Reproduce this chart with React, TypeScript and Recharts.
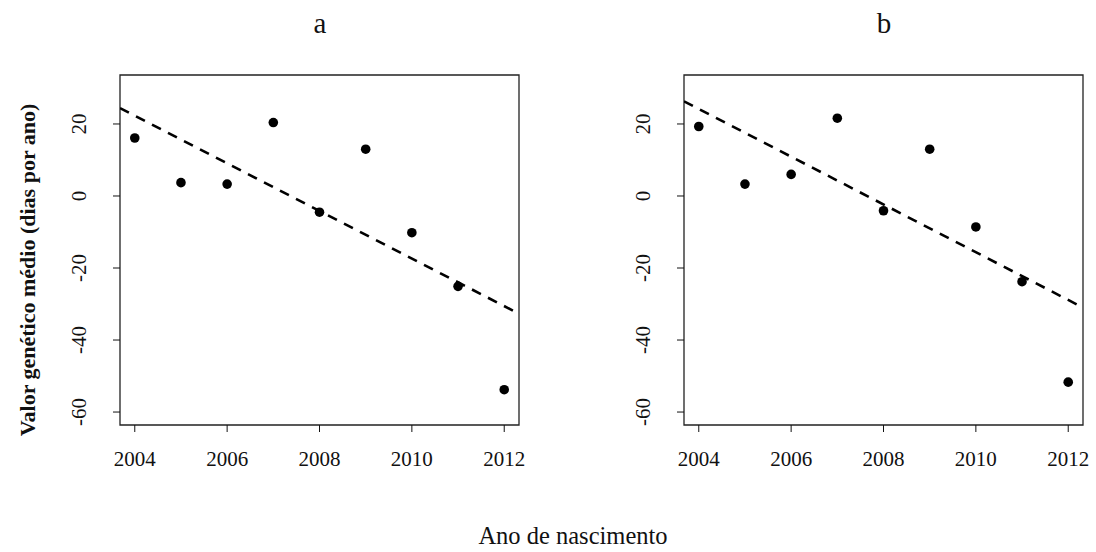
import { ComposedChart, Scatter, Line, XAxis, YAxis, ReferenceArea } from "recharts";

const years = [2004, 2005, 2006, 2007, 2008, 2009, 2010, 2011, 2012];
const valuesA = [16.1, 3.7, 3.3, 20.4, -4.5, 13.0, -10.2, -25.1, -53.8];
const valuesB = [19.3, 3.3, 6.0, 21.6, -4.1, 13.0, -8.6, -23.8, -51.7];

// dashed trend line, read at the left and right edges of each panel
const trendYears = [2003.68, 2012.32];
const trendA = [24.4, -32.7];
const trendB = [26.3, -31.0];

const xTicks = [2004, 2006, 2008, 2010, 2012];
const yTicks = [-60, -40, -20, 0, 20];
const xDomain: [number, number] = [2003.68, 2012.32];
const yDomain: [number, number] = [-63.6, 33.6];

const FONT = "'Liberation Serif', 'Times New Roman', serif";
const INK = "#111";

function XTick(props: any) {
  const { x, y, payload } = props;
  return (
    <text x={x} y={y + 32} textAnchor="middle" fontFamily={FONT} fontSize={21} fill={INK}>
      {payload.value}
    </text>
  );
}

function YTick(props: any) {
  const { x, y, payload } = props;
  const px = x - 25;
  return (
    <text
      x={px}
      y={y}
      transform={`rotate(-90, ${px}, ${y})`}
      textAnchor="middle"
      fontFamily={FONT}
      fontSize={21}
      fill={INK}
    >
      {payload.value}
    </text>
  );
}

function Dot(props: any) {
  return <circle cx={props.cx} cy={props.cy} r={4.8} fill="#000" />;
}

function Panel({ values, trend, width }: { values: number[]; trend: number[]; width: number }) {
  const points = years.map((x, i) => ({ x, y: values[i] }));
  const line = trendYears.map((x, i) => ({ x, y: trend[i] }));
  return (
    <ComposedChart
      width={width}
      height={480}
      margin={{ top: 75, right: width - 519, bottom: 5, left: 70 }}
    >
      <XAxis
        type="number"
        dataKey="x"
        domain={xDomain}
        ticks={xTicks}
        allowDataOverflow
        axisLine={false}
        tickSize={7}
        tickLine={{ stroke: INK }}
        height={50}
        tick={<XTick />}
      />
      <YAxis
        type="number"
        dataKey="y"
        domain={yDomain}
        ticks={yTicks}
        allowDataOverflow
        axisLine={false}
        tickSize={7}
        tickLine={{ stroke: INK }}
        width={50}
        tick={<YTick />}
      />
      <ReferenceArea
        x1={xDomain[0]}
        x2={xDomain[1]}
        y1={yDomain[0]}
        y2={yDomain[1]}
        fill="none"
        fillOpacity={0}
        stroke="#222"
        strokeWidth={1.3}
        ifOverflow="visible"
      />
      <Line
        data={line}
        dataKey="y"
        type="linear"
        stroke="#000"
        strokeWidth={2.6}
        strokeDasharray="10 8"
        dot={false}
        activeDot={false}
        isAnimationActive={false}
      />
      <Scatter data={points} dataKey="y" shape={<Dot />} isAnimationActive={false} />
    </ComposedChart>
  );
}

export default function App() {
  return (
    <div
      style={{
        position: "absolute",
        left: 0,
        top: 0,
        width: 1096,
        height: 552,
        background: "#fff",
        fontFamily: FONT,
        color: INK,
      }}
    >
      <div style={{ position: "absolute", left: 0, top: 0 }}>
        <Panel values={valuesA} trend={trendA} width={540} />
      </div>
      <div style={{ position: "absolute", left: 564, top: 0 }}>
        <Panel values={valuesB} trend={trendB} width={532} />
      </div>
      <svg
        width={1096}
        height={552}
        style={{ position: "absolute", left: 0, top: 0, pointerEvents: "none" }}
      >
        <text x={320} y={33} textAnchor="middle" fontFamily={FONT} fontSize={29} fill={INK}>
          a
        </text>
        <text x={884} y={33} textAnchor="middle" fontFamily={FONT} fontSize={29} fill={INK}>
          b
        </text>
        <text x={573} y={544} textAnchor="middle" fontFamily={FONT} fontSize={24.5} fill={INK}>
          Ano de nascimento
        </text>
        <text
          x={35}
          y={270}
          transform="rotate(-90, 35, 270)"
          textAnchor="middle"
          fontFamily={FONT}
          fontSize={22}
          fontWeight="bold"
          fill={INK}
        >
          Valor genético médio (dias por ano)
        </text>
      </svg>
    </div>
  );
}
